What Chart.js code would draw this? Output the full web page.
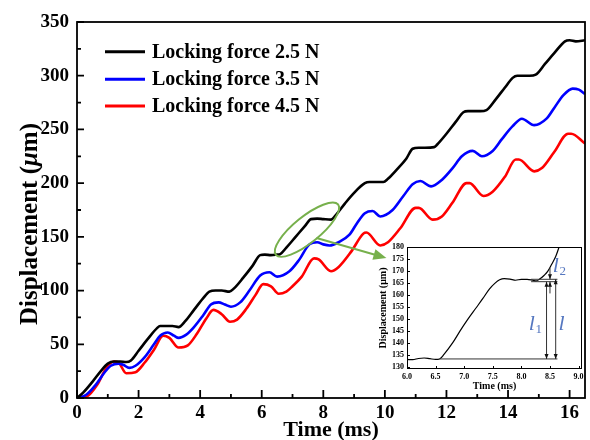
<!DOCTYPE html>
<html><head><meta charset="utf-8">
<script src="https://cdn.jsdelivr.net/npm/chart.js@4.4.1/dist/chart.umd.min.js"></script>
<style>
html,body{margin:0;padding:0;background:#fff;}
#wrap{position:relative;width:590px;height:440px;overflow:hidden;}
#main{position:absolute;left:0;top:0;}
#inset{position:absolute;left:360px;top:238px;}
</style></head><body>
<div id="wrap">
<canvas id="main" width="590" height="440"></canvas>
<canvas id="inset" width="228" height="156"></canvas>
</div>
<script>
// ---------- data ----------
const seriesNames = ['Locking force 2.5 N', 'Locking force 3.5 N', 'Locking force 4.5 N'];

const time25 = [0,0.2,0.5,0.8,1.0,1.2,1.4,1.6,1.75,2.0,2.3,2.6,2.7,2.9,3.1,3.3,3.5,3.8,4.1,4.3,4.5,4.7,4.95,5.1,5.4,5.7,5.95,6.1,6.3,6.5,6.6,6.8,7.1,7.4,7.6,7.8,8.0,8.25,8.4,8.7,9.0,9.35,9.5,9.7,9.95,10.1,10.4,10.7,10.9,11.1,11.3,11.6,11.7,12.0,12.3,12.55,12.7,12.9,13.1,13.3,13.6,13.9,14.15,14.3,14.5,14.7,14.9,15.2,15.5,15.85,16.0,16.2,16.5];
const disp25 = [0,5,15,26,32,34,34,33.5,35,44,55,65,67,67,67,66,71,82,93,99,100,100,99,102,112,123,133,133.5,133,133.5,134,140,150,160,166.5,167,166.5,166,170,181,191,200,201,201,201,204,213,223,232,233,233,233.5,236,246,257,266,267,267,267,268,278,289,298,300,300,300,301,311,321,332,333,332,333];

const time35 = [0,0.3,0.6,0.9,1.1,1.35,1.5,1.7,1.9,2.2,2.5,2.7,2.95,3.15,3.3,3.55,3.8,4.1,4.35,4.6,4.8,5.0,5.3,5.6,5.95,6.25,6.5,6.9,7.2,7.55,7.8,8.0,8.2,8.5,8.85,9.1,9.35,9.6,9.85,10.25,10.6,10.9,11.15,11.5,11.85,12.2,12.5,12.85,13.15,13.5,13.8,14.15,14.45,14.85,15.25,15.5,15.8,16.1,16.3,16.5];
const disp35 = [0,3,12,24,30,32,31,28,30,38,50,58,61,58,56,59,66,77,87,89,87,85,89,100,114,117,113,118,128,143,145,143,142,145,152,163,172,174,169,175,188,199,202,197,203,214,225,230,225,230,241,253,260,254,260,270,282,288,287,283];

const time45 = [0,0.3,0.65,0.95,1.2,1.35,1.6,1.9,2.2,2.5,2.8,3.0,3.3,3.6,3.9,4.2,4.43,4.7,4.97,5.2,5.5,5.8,6.05,6.3,6.55,6.8,7.0,7.3,7.7,7.85,8.25,8.5,8.9,9.3,9.4,9.85,10.1,10.5,11.0,11.1,11.55,11.85,12.2,12.65,12.75,13.2,13.5,13.9,14.25,14.35,14.85,15.1,15.5,15.95,16.05,16.5];
const disp45 = [0,1,12,28,34,33,23,24,33,45,58,56,47,49,60,74,82,78,71,73,83,96,106,104,97,99,104,113,130,129,118,122,136,153,154,142,145,158,177,177,166,169,182,200,200,188,192,206,222,222,211,214,229,246,246,237];

// inset (zoom of the 2.5 N curve)
const insetTime = [6.0,6.1,6.2,6.3,6.4,6.5,6.57,6.65,6.8,6.92,7.05,7.21,7.33,7.44,7.54,7.62,7.7,7.8,7.9,8.0,8.1,8.2,8.26,8.32,8.4,8.46,8.53,8.6,8.66];
const insetDisp = [133.0,132.9,133.4,133.6,133.3,133.0,133.2,135.2,140.0,144.6,149.3,154.6,158.6,162.4,164.9,166.3,166.8,166.6,166.1,166.5,166.5,166.1,165.8,166.6,168.2,169.8,172.8,176.0,180.0];

// inset annotation levels
const insetBase = 133.2;     // start level
const insetTopL = 166.5;     // l level
const insetTopL1 = 165.5;    // l1 level

const xTicksMain = [0,2,4,6,8,10,12,14,16];
const yTicksMain = [0,50,100,150,200,250,300,350];

// ---------- helpers ----------
const SERIF = '"Liberation Serif", "Times New Roman", serif';
const colors = ['#000000', '#0000ff', '#ff0000'];
const pts = (t, v) => t.map((x, i) => ({x: x, y: v[i]}));

function arrowHead(ctx, x1, y1, x2, y2, len, wid) {
  const a = Math.atan2(y2 - y1, x2 - x1);
  ctx.beginPath();
  ctx.moveTo(x2, y2);
  ctx.lineTo(x2 - len * Math.cos(a) + wid/2 * Math.sin(a), y2 - len * Math.sin(a) - wid/2 * Math.cos(a));
  ctx.lineTo(x2 - len * Math.cos(a) - wid/2 * Math.sin(a), y2 - len * Math.sin(a) + wid/2 * Math.cos(a));
  ctx.closePath();
  ctx.fill();
}

// ---------- main chart ----------
const mainDecor = {
  id: 'mainDecor',
  afterDraw(chart) {
    const {ctx, chartArea: a, scales: {x, y}} = chart;
    ctx.save();
    ctx.strokeStyle = '#000';
    ctx.lineWidth = 1.8;
    ctx.strokeRect(a.left, a.top, a.right - a.left, a.bottom - a.top);
    ctx.beginPath();
    for (let v = 0; v <= 16; v += 1) {
      const px = x.getPixelForValue(v);
      const len = (v % 2 === 0) ? 8 : 4;
      ctx.moveTo(px, a.bottom); ctx.lineTo(px, a.bottom - len);
    }
    for (let v = 0; v <= 350; v += 25) {
      const py = y.getPixelForValue(v);
      const len = (v % 50 === 0) ? 7 : 4;
      ctx.moveTo(a.left, py); ctx.lineTo(a.left + len, py);
    }
    ctx.stroke();

    // y-axis title with italic mu
    ctx.save();
    ctx.translate(31, 224);
    ctx.rotate(-Math.PI / 2);
    ctx.fillStyle = '#000';
    ctx.textBaseline = 'middle';
    ctx.textAlign = 'left';
    const parts = [['Displacement (', 'bold '], ['μ', 'italic bold '], ['m)', 'bold ']];
    let total = 0;
    parts.forEach(p => { ctx.font = p[1] + '25px ' + SERIF; total += ctx.measureText(p[0]).width; });
    let cx0 = -total / 2;
    parts.forEach(p => { ctx.font = p[1] + '25px ' + SERIF; ctx.fillText(p[0], cx0, 0); cx0 += ctx.measureText(p[0]).width; });
    ctx.restore();

    // legend
    const rows = [29.7, 57.3, 84.0];
    chart.data.datasets.forEach((ds, i) => {
      const yy = a.top + rows[i];
      ctx.strokeStyle = ds.borderColor;
      ctx.lineWidth = 3;
      ctx.beginPath();
      ctx.moveTo(a.left + 28, yy); ctx.lineTo(a.left + 68, yy);
      ctx.stroke();
      ctx.fillStyle = '#000';
      ctx.font = 'bold 20px ' + SERIF;
      ctx.textBaseline = 'middle';
      ctx.textAlign = 'left';
      ctx.fillText(ds.label, a.left + 75, yy + 1);
    });

    // green ellipse around the 2.5 N step and arrow to the inset
    const green = '#77b04c';
    const cx = x.getPixelForValue(7.47), cy = y.getPixelForValue(156.7);
    ctx.strokeStyle = green;
    ctx.lineWidth = 2;
    ctx.beginPath();
    ctx.ellipse(cx, cy, 40, 13, -39 * Math.PI / 180, 0, Math.PI * 2);
    ctx.stroke();
    const x1 = x.getPixelForValue(7.78), y1 = y.getPixelForValue(149);
    const x2 = x.getPixelForValue(10.05), y2 = y.getPixelForValue(130.3);
    ctx.beginPath();
    ctx.moveTo(x1, y1);
    const ang = Math.atan2(y2 - y1, x2 - x1);
    ctx.lineTo(x2 - 10 * Math.cos(ang), y2 - 10 * Math.sin(ang));
    ctx.stroke();
    ctx.fillStyle = green;
    arrowHead(ctx, x1, y1, x2, y2, 13, 11);
    ctx.restore();
  }
};

new Chart(document.getElementById('main'), {
  type: 'line',
  data: {
    datasets: [
      {label: seriesNames[0], data: pts(time25, disp25), borderColor: colors[0]},
      {label: seriesNames[1], data: pts(time35, disp35), borderColor: colors[1]},
      {label: seriesNames[2], data: pts(time45, disp45), borderColor: colors[2]}
    ]
  },
  options: {
    responsive: false,
    animation: false,
    devicePixelRatio: 1,
    layout: {padding: {left: 0, right: 5, top: 22, bottom: 0}},
    elements: {
      point: {radius: 0},
      line: {borderWidth: 2.6, cubicInterpolationMode: 'monotone', fill: false}
    },
    plugins: {legend: {display: false}, tooltip: {enabled: false}},
    scales: {
      x: {
        type: 'linear', min: 0, max: 16.5,
        afterBuildTicks: (s) => { s.ticks = xTicksMain.map(v => ({value: v})); },
        ticks: {color: '#000', padding: 4, maxRotation: 0, autoSkip: false,
                font: {family: SERIF, size: 19, weight: 'bold'}},
        grid: {display: false, drawTicks: false},
        border: {display: false},
        title: {display: true, text: 'Time (ms)', color: '#000',
                font: {family: SERIF, size: 22, weight: 'bold', lineHeight: 1},
                padding: {top: 0, bottom: -1}},
        afterFit: (s) => { s.height = 42; }
      },
      y: {
        type: 'linear', min: 0, max: 350,
        afterBuildTicks: (s) => { s.ticks = yTicksMain.map(v => ({value: v})); },
        ticks: {color: '#000', padding: 8, autoSkip: false,
                font: {family: SERIF, size: 19, weight: 'bold'}},
        grid: {display: false, drawTicks: false},
        border: {display: false},
        title: {display: false},
        afterFit: (s) => { s.width = 77; }
      }
    }
  },
  plugins: [mainDecor]
});

// ---------- inset chart ----------
const insetDecor = {
  id: 'insetDecor',
  afterDraw(chart) {
    const {ctx, chartArea: a, scales: {x, y}} = chart;
    ctx.save();
    ctx.strokeStyle = '#000';
    ctx.lineWidth = 1;
    ctx.strokeRect(a.left + 0.5, a.top + 0.5, a.right - a.left - 1, a.bottom - a.top - 1);
    ctx.beginPath();
    for (let v = 6.0; v <= 9.0001; v += 0.5) {
      const px = Math.round(x.getPixelForValue(v)) + 0.5;
      ctx.moveTo(px, a.bottom); ctx.lineTo(px, a.bottom - 3);
    }
    for (let v = 130; v <= 180; v += 5) {
      const py = Math.round(y.getPixelForValue(v)) + 0.5;
      ctx.moveTo(a.left, py); ctx.lineTo(a.left + 3, py);
    }
    ctx.stroke();

    // reference lines
    ctx.strokeStyle = '#333';
    ctx.lineWidth = 1;
    const hl = (t1, t2, v) => {
      const py = y.getPixelForValue(v);
      ctx.beginPath(); ctx.moveTo(x.getPixelForValue(t1), py); ctx.lineTo(x.getPixelForValue(t2), py); ctx.stroke();
    };
    hl(6.57, 8.63, insetBase);
    hl(8.17, 8.63, insetTopL);
    hl(8.17, 8.63, insetTopL1);
    ctx.fillStyle = '#111';
    const varrow = (t, v1, v2, both) => {
      const px = x.getPixelForValue(t);
      const p1 = y.getPixelForValue(v1), p2 = y.getPixelForValue(v2);
      ctx.beginPath(); ctx.moveTo(px, p1); ctx.lineTo(px, p2); ctx.stroke();
      arrowHead(ctx, px, p1, px, p2, 5, 4);
      if (both) arrowHead(ctx, px, p2, px, p1, 5, 4);
    };
    varrow(8.44, insetBase, insetTopL1, true);   // l1
    varrow(8.60, insetBase, insetTopL, true);    // l
    varrow(8.50, 171.2, insetTopL, false);       // l2 (from above)
    varrow(8.50, 160.6, insetTopL1, false);      // l2 (from below)

    // labels l1, l2, l
    ctx.fillStyle = '#5577c0';
    ctx.textBaseline = 'alphabetic';
    ctx.textAlign = 'left';
    const lab = (t, v, sub) => {
      const px = x.getPixelForValue(t), py = y.getPixelForValue(v);
      ctx.font = 'italic 22px ' + SERIF;
      ctx.fillText('l', px, py);
      if (sub) {
        const w = ctx.measureText('l').width;
        ctx.font = '13px ' + SERIF;
        ctx.fillText(sub, px + w + 0.5, py + 3);
      }
    };
    lab(8.13, 145.5, '1');
    lab(8.55, 169.5, '2');
    lab(8.65, 145.5, '');
    ctx.restore();
  }
};

new Chart(document.getElementById('inset'), {
  type: 'line',
  data: {datasets: [{data: pts(insetTime, insetDisp), borderColor: '#000', borderWidth: 1.2}]},
  options: {
    responsive: false,
    animation: false,
    devicePixelRatio: 1,
    layout: {padding: {left: 0, right: 6, top: 9, bottom: 0}},
    elements: {point: {radius: 0}, line: {cubicInterpolationMode: 'monotone', fill: false}},
    plugins: {legend: {display: false}, tooltip: {enabled: false}},
    scales: {
      x: {
        type: 'linear', min: 6.0, max: 9.06,
        ticks: {stepSize: 0.5, includeBounds: false, color: '#000', padding: 3, maxRotation: 0, autoSkip: false,
                font: {family: SERIF, size: 8, weight: 'bold'},
                callback: (v) => Number(v).toFixed(1)},
        grid: {display: false, drawTicks: false},
        border: {display: false},
        title: {display: true, text: 'Time (ms)', color: '#000',
                font: {family: SERIF, size: 10, weight: 'bold', lineHeight: 1},
                padding: {top: 0, bottom: 3}},
        afterFit: (s) => { s.height = 25; }
      },
      y: {
        type: 'linear', min: 129, max: 180,
        ticks: {stepSize: 5, includeBounds: false, color: '#000', padding: 3, autoSkip: false,
                font: {family: SERIF, size: 8, weight: 'bold'}},
        grid: {display: false, drawTicks: false},
        border: {display: false},
        title: {display: true, text: 'Displacement (μm)', color: '#000',
                font: {family: SERIF, size: 10, weight: 'bold', lineHeight: 1},
                padding: {top: 18, bottom: 0}},
        afterFit: (s) => { s.width = 47; }
      }
    }
  },
  plugins: [insetDecor]
});
</script>
</body></html>
